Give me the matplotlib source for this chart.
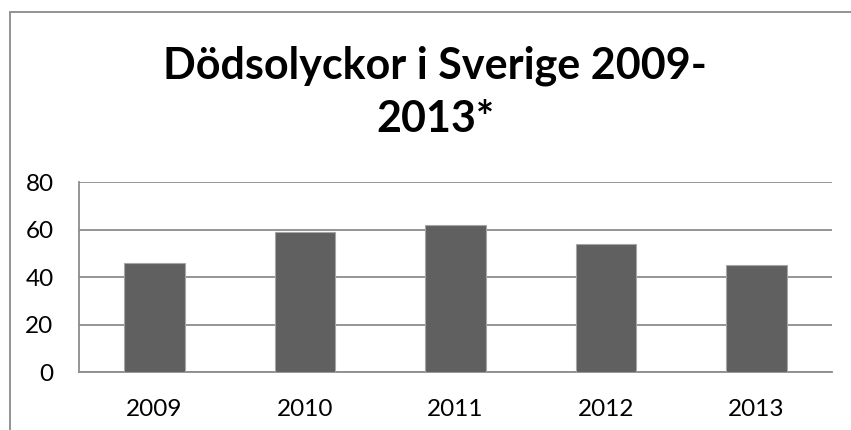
import matplotlib
matplotlib.use("Agg")
import matplotlib.pyplot as plt
from matplotlib.patches import Rectangle

years = ["2009", "2010", "2011", "2012", "2013"]
deaths = [46, 59, 62, 54, 45]
yticks = [0, 20, 40, 60, 80]
title = "Dödsolyckor i Sverige 2009-\n2013*"

W, H = 851, 430
fig = plt.figure(figsize=(W / 100, H / 100), dpi=100)
fig.patch.set_facecolor("white")

# outer chart border
fig.patches.append(Rectangle((10 / W, -0.1), 1.2, (H - 12) / H + 0.1,
                             transform=fig.transFigure, fill=False,
                             edgecolor="#8a8a8a", linewidth=1.3))

ax = fig.add_axes([79.3 / W, (H - 372.3) / H, (831.7 - 79.3) / W, (372.3 - 182.3) / H])
x = list(range(len(years)))
ax.bar(x, deaths, width=0.4, color="#606060", edgecolor="#a6a6a6", linewidth=0.8, zorder=3)
ax.set_xlim(-0.5, len(years) - 0.5)
ax.set_ylim(0, 80)
ax.set_yticks(yticks)
ax.set_xticks(x)
ax.set_xticklabels(years)
ax.yaxis.grid(True, color="#8c8c8c", linewidth=1.3, zorder=0)
ax.set_axisbelow(True)
for s in ["top", "right"]:
    ax.spines[s].set_visible(False)
for s in ["left", "bottom"]:
    ax.spines[s].set_color("#8c8c8c")
    ax.spines[s].set_linewidth(1.3)
ax.tick_params(axis="both", length=0, labelsize=17.5, colors="black")
ax.tick_params(axis="y", pad=18.5)
ax.tick_params(axis="x", pad=19)
for lab in ax.get_xticklabels() + ax.get_yticklabels():
    lab.set_fontfamily("Lato")

fig.text(435 / W, 1 - 45 / H, title, ha="center", va="top", fontsize=31,
         fontweight="bold", family="Lato", linespacing=1.42)

fig.savefig("out.png", dpi=100, facecolor="white")
